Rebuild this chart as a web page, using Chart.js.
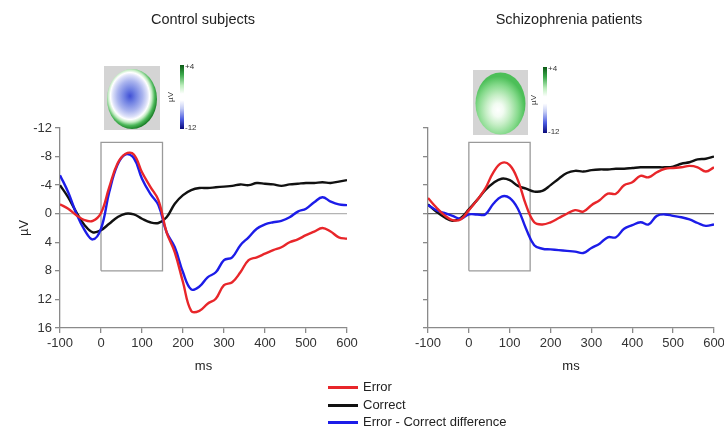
<!DOCTYPE html>
<html>
<head>
<meta charset="utf-8">
<script src="https://cdn.jsdelivr.net/npm/chart.js@4"></script>
<style>
    body { margin: 0; background: #fff; }
    #wrap { position: relative; width: 724px; height: 429px; overflow: hidden; font-family: 'Liberation Sans', Arial, sans-serif; color: #222; }
    .panel { position: absolute; top: 0; width: 362px; height: 429px; }
    .ptitle { position: absolute; top: 11px; width: 300px; text-align: center; font-size: 14.5px; }
    #legend { position: absolute; left: 328px; top: 378px; font-size: 13px; }
    .lrow { height: 17.5px; line-height: 17.5px; white-space: nowrap; }
    .lline { display: inline-block; width: 30px; height: 3px; vertical-align: middle; margin-right: 5px; }
</style>
</head>
<body>
<div id="wrap">
    <div class="panel" style="left:0"><canvas id="control_chart" width="362" height="429"></canvas></div>
    <div class="panel" style="left:362px"><canvas id="patient_chart" width="362" height="429"></canvas></div>
    <div class="ptitle" style="left:53px">Control subjects</div>
    <div class="ptitle" style="left:419px">Schizophrenia patients</div>
    <div id="legend"></div>
</div>
<script>
    // time axis (ms)
    const times = [-100, -80, -60, -40, -20, 0, 20, 40, 60, 80, 100, 120, 140, 160, 180, 200, 220, 240,
        260, 280, 300, 320, 340, 360, 380, 400, 420, 440, 460, 480, 500, 520, 540, 560, 580, 600];
    const xTicks = [-100, 0, 100, 200, 300, 400, 500, 600];
    const yTicks = [-12, -8, -4, 0, 4, 8, 12, 16];

    const seriesNames = ['Error', 'Correct', 'Error - Correct difference'];
    const seriesColors = ['#e8262a', '#111111', '#1c1ce8'];

    // control subjects
    const controlError = [-1.3, -0.7, 0.2, 0.9, 1.0, -0.1, -3.7, -7.0, -8.4, -8.3, -5.8, -3.8, -1.9, 2.6, 5.4, 9.6, 13.6, 13.6,
        12.6, 11.9, 10.0, 9.6, 8.2, 6.5, 6.1, 5.6, 5.1, 4.7, 4.0, 3.6, 3.0, 2.5, 2.0, 2.5, 3.3, 3.5];
    const controlCorrect = [-4.0, -2.3, -0.2, 1.6, 2.6, 2.3, 1.4, 0.5, 0.0, 0.1, 0.7, 1.2, 1.3, 0.5, -1.4, -2.6, -3.3, -3.6,
        -3.6, -3.7, -3.8, -3.9, -4.1, -4.0, -4.3, -4.2, -4.1, -3.9, -4.1, -4.2, -4.3, -4.3, -4.4, -4.3, -4.5, -4.7];
    const controlDiff = [-5.4, -3.0, 0.0, 2.3, 3.6, 2.1, -3.0, -6.8, -8.3, -7.8, -4.9, -2.8, -1.2, 2.6, 4.7, 8.2, 10.6, 10.2,
        8.9, 8.2, 6.5, 6.1, 4.4, 3.3, 2.1, 1.5, 1.2, 1.0, 0.5, -0.3, -0.7, -1.6, -2.3, -1.7, -1.3, -1.2];

    // schizophrenia patients
    const patientError = [-2.2, -0.9, 0.2, 0.9, 0.8, -0.5, -1.9, -3.5, -5.8, -7.1, -6.8, -4.7, -1.2, 1.2, 1.5, 1.2, 0.6, 0.0,
        -0.5, -0.3, -1.2, -1.9, -2.8, -2.8, -4.0, -4.4, -5.3, -5.1, -5.8, -6.3, -6.4, -6.5, -6.7, -6.5, -5.9, -6.5];
    const patientCorrect = [-1.3, -0.3, 0.5, 1.0, 0.6, -0.6, -1.9, -3.3, -4.3, -4.9, -4.7, -3.9, -3.5, -3.1, -3.2, -4.0, -4.9, -5.7,
        -6.0, -5.9, -6.1, -6.2, -6.2, -6.3, -6.3, -6.4, -6.5, -6.5, -6.5, -6.5, -6.6, -7.0, -7.2, -7.6, -7.7, -8.0];
    const patientDiff = [-1.2, -0.5, -0.1, 0.3, 0.7, 0.1, 0.1, 0.1, -1.4, -2.4, -2.2, -0.7, 2.1, 4.4, 4.9, 5.0, 5.1, 5.2,
        5.3, 5.5, 4.8, 4.2, 3.3, 3.3, 2.1, 1.6, 1.2, 1.5, 0.3, 0.1, 0.3, 0.5, 0.8, 1.3, 1.7, 1.5];

    // analysis window box (ms, µV)
    const boxTimes = [0, 150];
    const boxRange = [-10, 8];

    const fontFamily = "'Liberation Sans', Arial, sans-serif";

    function to_points(values) {
        return values.map((v, i) => ({x: times[i], y: v}));
    }

    function line_dataset(label, values, color) {
        return {
            label: label,
            data: to_points(values),
            borderColor: color,
            borderWidth: 2.4,
            pointRadius: 0,
            tension: 0.4,
            fill: false,
        }
    }

    function guide_datasets(zeroColor) {
        return [
            {
                label: 'zero',
                data: [{x: xTicks[0], y: 0}, {x: xTicks[xTicks.length - 1], y: 0}],
                borderColor: zeroColor, borderWidth: 1.3, pointRadius: 0, tension: 0,
            },
            {
                label: 'window',
                data: [
                    {x: boxTimes[0], y: boxRange[1]}, {x: boxTimes[0], y: boxRange[0]},
                    {x: boxTimes[1], y: boxRange[0]}, {x: boxTimes[1], y: boxRange[1]},
                    {x: boxTimes[0], y: boxRange[1]}
                ],
                borderColor: '#9a9a9a', borderWidth: 1.3, pointRadius: 0, tension: 0,
            }
        ]
    }

    // little scalp map + colour bar, drawn on the canvas
    function topo_plugin(map) {
        return {
            id: 'topo',
            afterDraw(chart) {
                const ctx = chart.ctx;
                ctx.save();
                ctx.fillStyle = '#d4d4d4';
                ctx.fillRect(map.box[0], map.box[1], map.box[2], map.box[3]);

                const cx = map.box[0] + map.box[2] / 2;
                const cy = map.box[1] + map.box[3] / 2 + 1;
                ctx.save();
                ctx.beginPath();
                ctx.ellipse(cx, cy, map.rx, map.ry, 0, 0, Math.PI * 2);
                ctx.clip();
                ctx.translate(map.gc[0], map.gc[1]);
                ctx.scale(1, map.ry / map.rx);
                let g = ctx.createRadialGradient(0, 0, 0, 0, 0, map.rx + map.extra);
                map.stops.forEach(s => g.addColorStop(s[0], s[1]));
                ctx.fillStyle = g;
                ctx.fillRect(-60, -60, 120, 120);
                ctx.restore();

                let bar = ctx.createLinearGradient(0, map.bar[1], 0, map.bar[1] + map.bar[3]);
                bar.addColorStop(0, '#0b5a16');
                bar.addColorStop(0.15, '#3aa84a');
                bar.addColorStop(0.32, '#bdeebd');
                bar.addColorStop(0.45, '#ffffff');
                bar.addColorStop(0.55, '#ffffff');
                bar.addColorStop(0.68, '#c4ccf4');
                bar.addColorStop(0.85, '#4a5ae0');
                bar.addColorStop(1, '#0a0a7a');
                ctx.fillStyle = bar;
                ctx.fillRect(map.bar[0], map.bar[1], map.bar[2], map.bar[3]);

                ctx.fillStyle = '#333';
                ctx.font = '8px ' + fontFamily;
                ctx.textBaseline = 'middle';
                ctx.textAlign = 'left';
                ctx.fillText('+4', map.bar[0] + map.bar[2] + 1, map.bar[1] + 2);
                ctx.fillText('-12', map.bar[0] + map.bar[2] + 1, map.bar[1] + map.bar[3] - 1);
                ctx.translate(map.bar[0] - 9, map.bar[1] + map.bar[3] / 2);
                ctx.rotate(-Math.PI / 2);
                ctx.textAlign = 'center';
                ctx.fillText('µV', 0, 0);
                ctx.restore();
            }
        }
    }

    function make_chart(canvasId, series, opts) {
        let datasets = [
            line_dataset(seriesNames[0], series[0], seriesColors[0]),
            line_dataset(seriesNames[2], series[2], seriesColors[2]),
            line_dataset(seriesNames[1], series[1], seriesColors[1]),
        ].concat(guide_datasets(opts.zeroColor));

        let canvas = document.getElementById(canvasId).getContext('2d');
        return new Chart(canvas, {
            type: 'line',
            data: {datasets: datasets},
            plugins: [topo_plugin(opts.map)],
            options: {
                responsive: false,
                animation: false,
                layout: {padding: {left: 0, right: opts.padRight, top: 128, bottom: 51}},
                plugins: {legend: {display: false}, tooltip: {enabled: false}},
                scales: {
                    x: {
                        type: 'linear',
                        min: xTicks[0],
                        max: xTicks[xTicks.length - 1],
                        afterBuildTicks: s => { s.ticks = xTicks.map(v => ({value: v})) },
                        afterFit: s => { s.height = 50; s.paddingLeft = 0; s.paddingRight = 0; },
                        ticks: {font: {family: fontFamily, size: 13}, color: '#333', padding: 3, maxRotation: 0},
                        grid: {drawOnChartArea: false, drawTicks: true, tickLength: 5, color: '#8a8a8a', lineWidth: 1.3},
                        border: {display: true, color: '#8a8a8a', width: 1.3},
                        title: {display: true, text: 'ms', font: {family: fontFamily, size: 13}, color: '#222', padding: {bottom: 4}}
                    },
                    y: {
                        type: 'linear',
                        reverse: true,
                        min: yTicks[0],
                        max: yTicks[yTicks.length - 1],
                        afterBuildTicks: s => { s.ticks = yTicks.map(v => ({value: v})) },
                        afterFit: s => { s.width = opts.axisWidth },
                        ticks: {
                            font: {family: fontFamily, size: 13}, color: '#333', padding: 3,
                            callback: v => opts.showYLabels ? v : ''
                        },
                        grid: {drawOnChartArea: false, drawTicks: true, tickLength: 5, color: '#8a8a8a', lineWidth: 1.3},
                        border: {display: true, color: '#8a8a8a', width: 1.3},
                        title: {
                            display: opts.showYLabels, text: 'µV',
                            font: {family: fontFamily, size: 13}, color: '#222', padding: {top: 17}
                        }
                    }
                }
            }
        })
    }

    make_chart('control_chart', [controlError, controlCorrect, controlDiff], {
        zeroColor: '#b4b4b4', padRight: 15, axisWidth: 60, showYLabels: true,
        map: {
            box: [104, 66, 56, 64], rx: 25, ry: 30, gc: [130, 96], extra: 3,
            stops: [[0, '#4050d6'], [0.2, '#6f80e2'], [0.45, '#aab4ee'], [0.62, '#dde1f9'], [0.7, '#ffffff'],
                [0.78, '#c4ecc4'], [0.88, '#4cb85a'], [1, '#157a22']],
            bar: [180, 65, 4, 64]
        }
    });

    make_chart('patient_chart', [patientError, patientCorrect, patientDiff], {
        zeroColor: '#666666', padRight: 10, axisWidth: 66, showYLabels: false,
        map: {
            box: [111, 70, 55, 65], rx: 25, ry: 31, gc: [136, 110], extra: 2,
            stops: [[0, '#ffffff'], [0.2, '#f2fcf2'], [0.45, '#c6eec6'], [0.75, '#86da8c'], [1, '#4cbf58']],
            bar: [181, 67, 4, 66]
        }
    });

    // legend under both panels
    let legend = document.getElementById('legend');
    seriesNames.forEach((name, i) => {
        let row = document.createElement('div');
        row.className = 'lrow';
        row.innerHTML = '<span class="lline" style="background:' + seriesColors[i] + '"></span>' + name;
        legend.appendChild(row);
    });
</script>
</body>
</html>
